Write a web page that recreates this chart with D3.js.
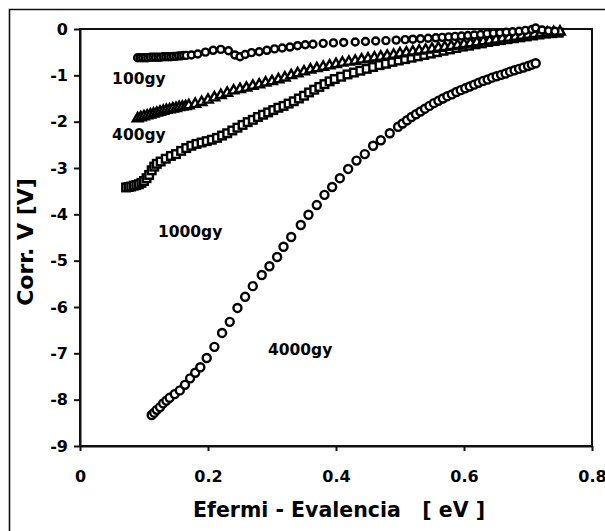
<!DOCTYPE html>
<html><head><meta charset="utf-8">
<script src="https://cdn.jsdelivr.net/npm/d3@7"></script>
<style>html,body{margin:0;padding:0;background:#fff;}svg{display:block;}</style>
</head><body>
<script>
// ---- data ----
const xTicks = [0, 0.2, 0.4, 0.6, 0.8];
const xTickLabels = ["0", "0.2", "0.4", "0.6", "0.8"];
const yTicks = [0, -1, -2, -3, -4, -5, -6, -7, -8, -9];
const yTickLabels = ["0", "-1", "-2", "-3", "-4", "-5", "-6", "-7", "-8", "-9"];
const xTitle = "Efermi - Evalencia\u00A0\u00A0\u00A0[ eV ]";
const yTitle = "Corr. V [V]";

const seriesNames = ["100gy", "400gy", "1000gy", "4000gy"];
const labelX = [0.092, 0.092, 0.172, 0.344];
const labelY = [-1.19, -2.4, -4.49, -7.04];

const x100 = [0.090,0.094,0.098,0.102,0.106,0.110,0.114,0.118,0.122,0.126,0.130,0.134,0.138,0.142,0.146,0.150,0.154,0.158,0.162,0.166,
  0.174,0.184,0.196,0.208,0.220,0.232,0.242,0.250,0.258,0.268,0.280,0.292,0.304,0.316,0.328,0.340,0.352,0.364,0.380,0.396,0.412,0.430,0.446,0.462,0.478,0.494,0.508,0.520,0.532,0.544,0.556,0.566,0.576,0.586,0.596,0.606,0.616,0.626,0.636,0.646,0.656,0.666,0.676,0.686,0.696,0.706,0.712,0.722,0.732,0.742];
const y100 = [-0.62,-0.62,-0.62,-0.62,-0.62,-0.61,-0.61,-0.61,-0.61,-0.61,-0.60,-0.60,-0.60,-0.60,-0.59,-0.59,-0.58,-0.58,-0.57,-0.57,
  -0.56,-0.54,-0.50,-0.46,-0.44,-0.47,-0.56,-0.60,-0.55,-0.51,-0.49,-0.46,-0.43,-0.41,-0.39,-0.36,-0.34,-0.33,-0.31,-0.30,-0.29,-0.28,-0.27,-0.26,-0.25,-0.24,-0.23,-0.22,-0.21,-0.20,-0.19,-0.18,-0.17,-0.16,-0.15,-0.14,-0.13,-0.12,-0.10,-0.09,-0.08,-0.07,-0.06,-0.05,-0.03,-0.01,0.02,-0.02,-0.04,-0.05];

const x400 = [0.090,0.095,0.100,0.105,0.110,0.115,0.120,0.125,0.130,0.135,0.140,0.145,0.150,0.155,0.160,0.165,0.170,
  0.180,0.190,0.200,0.210,0.220,0.230,0.240,0.250,0.260,0.270,0.280,0.290,0.300,0.310,0.320,0.330,0.340,0.350,0.360,0.370,0.380,0.390,0.400,0.410,0.420,0.430,0.440,0.450,0.460,0.470,0.480,0.490,0.500,0.510,0.520,0.530,0.540,0.550,0.560,0.570,0.580,0.590,0.600,0.610,0.620,0.630,0.640,0.650,0.660,0.670,0.680,0.690,0.700,0.710,0.720,0.730,0.740,0.750];
const y400 = [-1.93,-1.91,-1.89,-1.87,-1.85,-1.83,-1.81,-1.79,-1.77,-1.75,-1.74,-1.72,-1.71,-1.69,-1.68,-1.67,-1.65,
  -1.62,-1.58,-1.53,-1.48,-1.43,-1.38,-1.33,-1.30,-1.27,-1.23,-1.20,-1.16,-1.13,-1.09,-1.05,-1.00,-0.96,-0.92,-0.88,-0.85,-0.82,-0.79,-0.76,-0.73,-0.71,-0.69,-0.66,-0.64,-0.62,-0.60,-0.58,-0.56,-0.53,-0.51,-0.49,-0.47,-0.45,-0.43,-0.41,-0.39,-0.37,-0.35,-0.33,-0.31,-0.29,-0.27,-0.25,-0.23,-0.21,-0.19,-0.17,-0.15,-0.13,-0.11,-0.09,-0.08,-0.07,-0.06];

const x1000 = [0.072,0.076,0.080,0.084,0.088,0.092,0.096,0.100,0.104,0.108,0.112,0.116,0.120,0.126,0.134,0.142,0.150,0.158,0.166,0.174,0.182,0.190,0.198,0.206,0.214,0.222,0.230,0.238,0.246,0.254,0.262,0.270,0.278,0.286,0.294,0.302,0.310,0.318,0.326,0.334,0.342,0.350,0.358,0.366,0.374,0.382,0.390,0.398,0.408,0.418,0.428,0.438,0.448,0.458,0.468,0.478,0.488,0.498,0.508,0.518,0.528,0.538,0.548,0.558,0.568,0.578,0.588,0.598,0.608,0.618,0.628,0.638,0.648,0.658,0.668,0.678,0.688,0.698,0.708,0.718,0.728,0.738,0.748];
const y1000 = [-3.42,-3.41,-3.40,-3.38,-3.37,-3.35,-3.32,-3.28,-3.22,-3.15,-3.05,-2.97,-2.91,-2.86,-2.80,-2.74,-2.70,-2.63,-2.57,-2.52,-2.48,-2.45,-2.42,-2.39,-2.35,-2.30,-2.25,-2.19,-2.13,-2.07,-2.01,-1.96,-1.90,-1.85,-1.80,-1.75,-1.70,-1.66,-1.61,-1.56,-1.50,-1.44,-1.37,-1.31,-1.25,-1.19,-1.13,-1.08,-1.03,-0.98,-0.94,-0.90,-0.86,-0.82,-0.78,-0.75,-0.71,-0.68,-0.65,-0.62,-0.59,-0.56,-0.53,-0.50,-0.47,-0.44,-0.41,-0.38,-0.36,-0.33,-0.31,-0.28,-0.26,-0.24,-0.22,-0.20,-0.18,-0.16,-0.14,-0.12,-0.10,-0.09,-0.08];

const x4000 = [0.112,0.116,0.120,0.125,0.130,0.135,0.140,0.148,0.156,0.164,0.172,0.180,0.188,0.198,0.210,0.222,0.234,0.246,0.258,0.270,0.284,0.296,0.308,0.318,0.330,0.345,0.357,0.370,0.382,0.394,0.406,0.419,0.432,0.445,0.458,0.470,0.484,
  0.497,0.504,0.511,0.518,0.525,0.532,0.539,0.546,0.553,0.560,0.567,0.574,0.581,0.588,0.595,0.602,0.609,0.616,0.623,0.630,0.637,0.644,0.651,0.658,0.665,0.672,0.679,0.686,0.693,0.700,0.706,0.712];
const y4000 = [-8.33,-8.28,-8.22,-8.16,-8.08,-8.02,-7.96,-7.88,-7.80,-7.68,-7.54,-7.42,-7.30,-7.10,-6.86,-6.56,-6.32,-6.02,-5.78,-5.55,-5.31,-5.12,-4.92,-4.70,-4.49,-4.23,-4.01,-3.80,-3.58,-3.41,-3.22,-3.02,-2.84,-2.70,-2.52,-2.40,-2.25,
  -2.11,-2.04,-1.97,-1.90,-1.84,-1.78,-1.72,-1.66,-1.60,-1.55,-1.50,-1.45,-1.41,-1.36,-1.32,-1.28,-1.24,-1.20,-1.16,-1.12,-1.09,-1.05,-1.02,-0.99,-0.96,-0.92,-0.89,-0.86,-0.83,-0.80,-0.77,-0.74];

// ---- drawing ----
const W = 605, H = 531;
const svg = d3.select("body").append("svg").attr("width", W).attr("height", H)
  .style("font-family", "'DejaVu Sans', sans-serif");
svg.append("rect").attr("width", W).attr("height", H).attr("fill", "#fff");

// outer frame (runs off the right and bottom edges)
svg.append("path").attr("d", `M9.5,${H + 5} V9.5 H${W + 5}`)
  .attr("fill", "none").attr("stroke", "#111").attr("stroke-width", 1.6);

const x = d3.scaleLinear().domain([0, 0.8]).range([80, 592]);
const y = d3.scaleLinear().domain([-9, 0]).range([446, 29]);

// plot frame
svg.append("rect").attr("x", x(0)).attr("y", y(0)).attr("width", x(0.8) - x(0)).attr("height", y(-9) - y(0))
  .attr("fill", "none").attr("stroke", "#111").attr("stroke-width", 2);

const yAxis = svg.append("g").attr("transform", `translate(${x(0)},0)`)
  .call(d3.axisLeft(y).tickValues(yTicks).tickSize(6).tickSizeOuter(0).tickPadding(6)
    .tickFormat((d, i) => yTickLabels[i]));
const xAxis = svg.append("g").attr("transform", `translate(0,${y(-9)})`)
  .call(d3.axisBottom(x).tickValues(xTicks).tickSize(5).tickSizeOuter(0).tickPadding(20)
    .tickFormat((d, i) => xTickLabels[i]));
[yAxis, xAxis].forEach(g => {
  g.select(".domain").attr("stroke", "#111").attr("stroke-width", 2);
  g.selectAll(".tick line").attr("stroke", "#111").attr("stroke-width", 2);
  g.selectAll(".tick text").attr("fill", "#000").style("font-family", "'DejaVu Sans', sans-serif")
    .style("font-size", "16px").style("font-weight", "bold");
});

// axis titles
svg.append("text").attr("x", 339).attr("y", 517).attr("text-anchor", "middle")
  .style("font-size", "20.5px").style("font-weight", "bold").text(xTitle);
svg.append("text").attr("transform", "translate(33,242) rotate(-90)").attr("text-anchor", "middle")
  .style("font-size", "22px").style("font-weight", "bold").text(yTitle);

// markers
const sw = 2.4;
const pts = (xs, ys) => xs.map((v, i) => [v, ys[i]]);
const gm = svg.append("g").attr("fill", "#fff").attr("stroke", "#000").attr("stroke-width", sw);

// 1000gy squares
gm.selectAll("rect.s1000").data(pts(x1000, y1000)).join("rect").attr("class", "s1000")
  .attr("x", d => x(d[0]) - 3.8).attr("y", d => y(d[1]) - 3.8).attr("width", 7.6).attr("height", 7.6);
// 400gy triangles
const tri = d3.symbol().type(d3.symbolTriangle).size(40);
gm.selectAll("path.s400").data(pts(x400, y400)).join("path").attr("class", "s400")
  .attr("d", tri).attr("transform", d => `translate(${x(d[0])},${y(d[1])})`);
// 100gy circles
gm.selectAll("circle.s100").data(pts(x100, y100)).join("circle").attr("class", "s100")
  .attr("cx", d => x(d[0])).attr("cy", d => y(d[1])).attr("r", 3.5);
// 4000gy circles
gm.selectAll("circle.s4000").data(pts(x4000, y4000)).join("circle").attr("class", "s4000")
  .attr("cx", d => x(d[0])).attr("cy", d => y(d[1])).attr("r", 4);

// series labels
svg.append("g").selectAll("text").data(seriesNames).join("text")
  .attr("x", (d, i) => x(labelX[i])).attr("y", (d, i) => y(labelY[i])).attr("text-anchor", "middle")
  .style("font-size", "15.5px").style("font-weight", "bold").attr("fill", "#000").text(d => d);
</script>
</body></html>
